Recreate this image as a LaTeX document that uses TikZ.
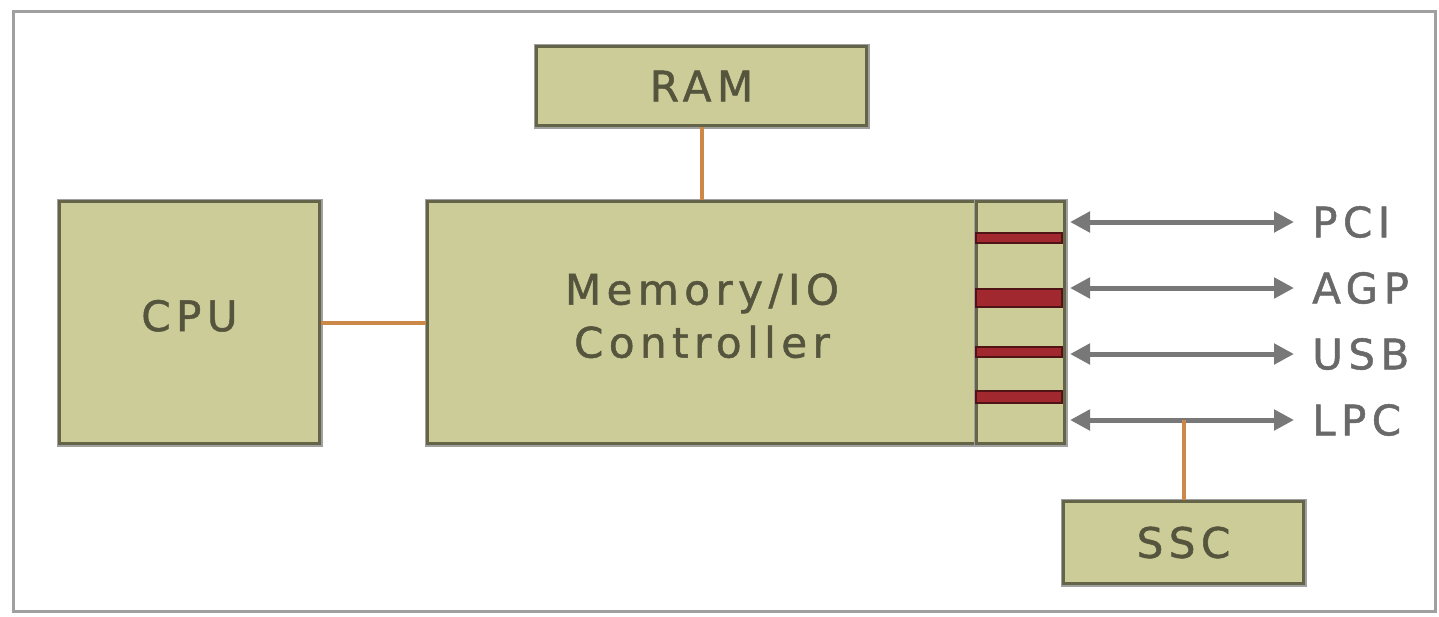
\documentclass[tikz,border=0pt]{standalone}
\usepackage{fontspec}
\setmainfont{DejaVu Sans}
\newfontfamily\widefont[LetterSpace=13,FakeBold=1.2]{DejaVu Sans}
\usetikzlibrary{arrows.meta}
\definecolor{khaki}{RGB}{204,204,153}
\definecolor{olive}{RGB}{100,100,72}
\definecolor{shadowgray}{RGB}{160,160,160}
\definecolor{wireorange}{RGB}{204,136,70}
\definecolor{busgray}{RGB}{120,120,120}
\definecolor{barred}{RGB}{160,40,46}
\definecolor{bardark}{RGB}{80,20,20}
\definecolor{txt}{RGB}{85,85,62}
\definecolor{lbl}{RGB}{105,105,105}
\tikzset{
  box/.style={preaction={draw=shadowgray, line width=6pt}, draw=olive, fill=khaki, line width=3pt, inner sep=0pt, text=txt,
     font=\widefont\fontsize{42}{53}\selectfont, align=center, anchor=north west},
  raised/.style={text depth=14pt},
  wire/.style={draw=wireorange, line width=4pt},
  bus/.style={draw=busgray, line width=5pt, {Triangle[length=20pt,width=20pt]}-{Triangle[length=20pt,width=20pt]}},
  redbar/.style={draw=bardark, fill=barred, line width=2pt, minimum width=86pt, minimum height=10pt, inner sep=0pt},
  buslbl/.style={text=lbl, font=\widefont\fontsize{42}{44}\selectfont, anchor=west, inner sep=0pt},
}
\begin{document}
\begin{tikzpicture}[x=1pt,y=-1pt]
\useasboundingbox (0,0) rectangle (1439,616);
\draw[shadowgray, line width=3pt] (13,11) rectangle (1435,611);
\node[box, raised, minimum width=260pt, minimum height=242pt] (cpu) at (58,200) {CPU};
\node[box, raised, minimum width=549pt, minimum height=242pt] (mem) at (426,200) {Memory/IO\\Controller};
\node[box, minimum width=88pt, minimum height=242pt] (port) at (975,200) {};
\node[box, minimum width=330pt, minimum height=79pt] (ram) at (535,45) {RAM};
\node[box, minimum width=240pt, minimum height=82pt] (ssc) at (1062,500) {SSC};
\node[redbar] (b1) at (1019,238) {};
\node[redbar, minimum height=18pt] (b2) at (1019,298) {};
\node[redbar] (b3) at (1019,352) {};
\node[redbar, minimum height=12pt] (b4) at (1019,397) {};
\draw[wire] (cpu.east) -- (mem.west);
\draw[wire] (ram.south) -- (ram.south |- mem.north);
\node[buslbl] (pci) at (1312,222) {PCI};
\node[buslbl] (agp) at (1312,288) {AGP};
\node[buslbl] (usb) at (1312,354) {USB};
\node[buslbl] (lpc) at (1312,420) {LPC};
\foreach \n in {pci,agp,usb,lpc}{
  \draw[bus] ([xshift=4pt]port.east |- \n.west) -- ([xshift=-18pt]\n.west);
}
\coordinate (tap) at (ssc.north |- lpc.west);
\draw[wire] (tap) -- (ssc.north);
\end{tikzpicture}
\end{document}
